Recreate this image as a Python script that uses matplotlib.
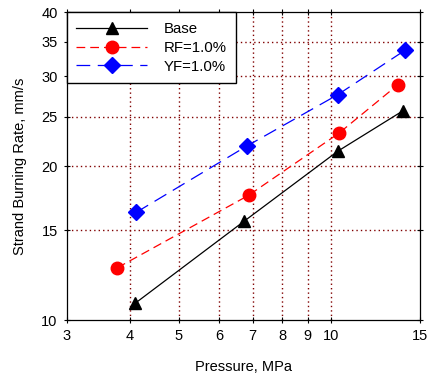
import matplotlib
matplotlib.use("Agg")
import matplotlib.pyplot as plt
from matplotlib.ticker import FixedLocator, NullLocator, FixedFormatter

plt.rcParams['font.family'] = ['Liberation Sans', 'DejaVu Sans']

base_x = [4.10, 6.72, 10.31, 13.9]
base_y = [10.8, 15.6, 21.4, 25.7]
rf_x = [3.78, 6.87, 10.36, 13.58]
rf_y = [12.67, 17.55, 23.2, 28.9]
yf_x = [4.12, 6.81, 10.31, 14.0]
yf_y = [16.26, 21.9, 27.6, 33.7]

xticks = [3, 4, 5, 6, 7, 8, 9, 10, 15]
yticks = [10, 15, 20, 25, 30, 35, 40]
xgrid = [4, 5, 6, 7, 8, 9, 10]
ygrid = [15, 20, 25, 30, 35]

fig = plt.figure(figsize=(4.31, 3.77), dpi=100)
ax = fig.add_axes([0.1547, 0.1504, 0.8198, 0.817])
ax.set_xscale('log')
ax.set_yscale('log')
ax.set_xlim(3, 15)
ax.set_ylim(10, 40)

for gx in xgrid:
    ax.axvline(gx, color='#800000', linestyle=(0, (1, 2.2)), linewidth=1.0, zorder=0)
for gy in ygrid:
    ax.axhline(gy, color='#800000', linestyle=(0, (1, 2.2)), linewidth=1.0, zorder=0)

ax.plot(base_x, base_y, color='black', linewidth=0.9, marker='^', markersize=9,
        markerfacecolor='black', markeredgecolor='black', label='Base', zorder=3)
ax.plot(rf_x, rf_y, color='red', linewidth=0.9, linestyle=(0, (7, 4)), marker='o', markersize=9,
        markerfacecolor='red', markeredgecolor='red', label='RF=1.0%', zorder=3)
ax.plot(yf_x, yf_y, color='blue', linewidth=0.9, linestyle=(0, (11, 6)), marker='D', markersize=8,
        markerfacecolor='blue', markeredgecolor='blue', label='YF=1.0%', zorder=3)

ax.xaxis.set_major_locator(FixedLocator(xticks))
ax.xaxis.set_major_formatter(FixedFormatter([str(t) for t in xticks]))
ax.xaxis.set_minor_locator(NullLocator())
ax.yaxis.set_major_locator(FixedLocator(yticks))
ax.yaxis.set_major_formatter(FixedFormatter([str(t) for t in yticks]))
ax.yaxis.set_minor_locator(NullLocator())
ax.tick_params(axis='both', which='major', labelsize=10.5, direction='inout', length=5,
               width=0.8, top=True, right=True, pad=4)

for s in ax.spines.values():
    s.set_linewidth(0.9)
    s.set_color('black')

ax.set_xlabel('Pressure, MPa', fontsize=10.5, labelpad=12)
ax.set_ylabel('Strand Burning Rate, mm/s', fontsize=10.5, labelpad=10)

leg = ax.legend(loc='upper left', bbox_to_anchor=(0, 1), borderaxespad=0, handlelength=4.7,
                fontsize=10.8, frameon=True, fancybox=False, edgecolor='black',
                framealpha=1, handletextpad=1.1, borderpad=0.65, labelspacing=0.32)
leg.get_frame().set_linewidth(1.0)

fig.savefig('out.png', dpi=100)
